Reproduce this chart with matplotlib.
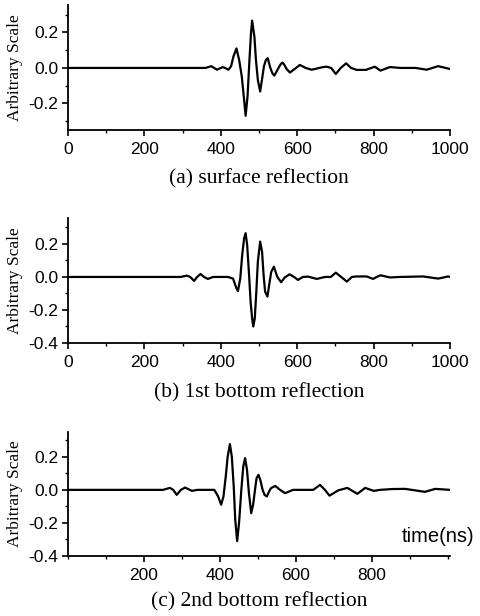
import numpy as np
import matplotlib
matplotlib.use('Agg')
import matplotlib.pyplot as plt
from matplotlib.ticker import MultipleLocator, FixedLocator, FormatStrFormatter

# (a) surface reflection
t_a = [0, 100, 200, 300, 360, 375, 390, 405, 411, 420, 427, 433, 441, 448, 455,
       461, 465, 470, 475, 479, 482, 488, 492, 497, 503, 509, 513, 518, 523, 529,
       535, 540, 546, 551, 557, 562, 567, 572, 581, 594, 607, 622, 638, 668, 677,
       689, 701, 714, 728, 741, 756, 780, 803, 818, 843, 870, 910, 939, 969, 1000]
v_a = [0, 0, 0, 0, 0, 0.01, -0.01, 0.005, 0, -0.01, 0.01, 0.064, 0.11, 0.045, -0.049,
       -0.18, -0.27, -0.16, 0.045, 0.195, 0.267, 0.176, 0.045, -0.068, -0.133, -0.049, 0.01, 0.045, 0.055, 0.005,
       -0.03, -0.043, -0.02, 0, 0.022, 0.03, 0.015, -0.005, -0.026, -0.005, 0.017, 0, -0.01, 0.005, 0.007,
       0, -0.034, 0, 0.026, 0, -0.011, -0.011, 0.007, -0.015, 0.005, 0, 0, -0.01, 0.01, -0.006]

# (b) 1st bottom reflection
t_b = [0, 100, 200, 295, 311, 320, 330, 338, 347, 356, 366, 380, 419, 432, 441,
       445, 451, 456, 461, 465, 469, 474, 478, 482, 485, 489, 493, 497, 503, 508,
       512, 516, 522, 528, 532, 539, 548, 558, 567, 580, 593, 602, 615, 629, 651,
       673, 688, 701, 715, 730, 743, 756, 782, 799, 808, 818, 843, 869, 930, 969,
       995, 1000]
v_b = [0, 0, 0, 0, 0.008, 0, -0.024, 0, 0.018, 0, -0.012, 0, 0, -0.01, -0.069,
       -0.085, -0.008, 0.133, 0.234, 0.265, 0.194, 0.012, -0.15, -0.25, -0.30, -0.25, -0.089, 0.093, 0.214, 0.153,
       0.012, -0.089, -0.119, -0.028, 0.03, 0.062, 0, -0.032, -0.004, 0.016, -0.002, -0.018, 0, 0.002, -0.012,
       0, 0, 0.026, 0, -0.028, 0, 0.003, 0.003, -0.012, 0, 0.01, -0.003, 0, 0.003, -0.01,
       0.003, 0]

# (c) 2nd bottom reflection
t_c = [0, 250, 268, 277, 286, 297, 308, 326, 340, 385, 395, 403, 409, 415, 420,
       426, 431, 436, 440, 445, 450, 456, 461, 466, 471, 476, 482, 487, 492, 496,
       501, 506, 512, 517, 523, 529, 534, 545, 558, 571, 592, 645, 663, 676, 688,
       711, 735, 761, 782, 804, 821, 852, 887, 939, 966, 1005]
v_c = [0, 0, 0.012, 0, -0.03, 0, 0.014, -0.006, 0, 0, -0.04, -0.09, -0.04, 0.08, 0.2,
       0.277, 0.2, 0.02, -0.18, -0.31, -0.2, 0, 0.14, 0.192, 0.12, -0.02, -0.141, -0.09, 0, 0.07,
       0.091, 0.06, 0, -0.03, -0.04, -0.01, 0.01, 0.024, 0, -0.02, 0, 0, 0.03, 0, -0.035,
       -0.003, 0.012, -0.024, 0.012, -0.006, 0, 0.005, 0.006, -0.012, 0.006, 0]

titles = ['(a) surface reflection', '(b) 1st bottom reflection', '(c) 2nd bottom reflection']
serif = 'Liberation Serif'
sans = 'Liberation Sans'

fig = plt.figure(figsize=(4.8, 6.16), dpi=100)
L, W = 68 / 480, 382 / 480
H = 616
boxes = [(5, 130), (218, 343), (432, 556)]
ylims = [(-0.35, 0.355), (-0.4, 0.357), (-0.4, 0.35)]
xlims = [(0, 1000), (0, 1000), (0, 1005)]
series = [(t_a, v_a), (t_b, v_b), (t_c, v_c)]
title_y = [179, 393, 602]

for i in range(3):
    top, bot = boxes[i]
    ax = fig.add_axes([L, 1 - bot / H, W, (bot - top) / H])
    t, v = series[i]
    ax.plot(t, v, color='black', lw=1.6, solid_joinstyle='round')
    ax.set_xlim(*xlims[i])
    ax.set_ylim(*ylims[i])
    for s in ['top', 'right']:
        ax.spines[s].set_visible(False)
    for s in ['left', 'bottom']:
        ax.spines[s].set_linewidth(1.3)
    ax.xaxis.set_minor_locator(MultipleLocator(100))
    ax.yaxis.set_minor_locator(MultipleLocator(0.1))
    if i == 2:
        ax.xaxis.set_major_locator(FixedLocator([200, 400, 600, 800]))
    else:
        ax.xaxis.set_major_locator(MultipleLocator(200))
    ax.yaxis.set_major_locator(MultipleLocator(0.2))
    ax.yaxis.set_major_formatter(FormatStrFormatter('%.1f'))
    ax.tick_params(which='major', direction='out', length=4, width=1.2, labelsize=12.5, pad=3)
    ax.tick_params(axis='x', which='major', pad=5)
    ax.tick_params(which='minor', direction='out', length=2.5, width=1.0)
    for lab in ax.get_xticklabels() + ax.get_yticklabels():
        lab.set_family(sans)
    ax.set_ylabel('Arbitrary Scale', family=serif, fontsize=12.5)
    ax.yaxis.set_label_coords(-0.118, 0.5)
    ax.text(0.5, (bot - title_y[i]) / (bot - top), titles[i], transform=ax.transAxes,
            ha='center', va='center', family=serif, fontsize=15.5)

fig.text(438 / 480, 1 - 537 / H, 'time(ns)', ha='center', va='center', family=sans, fontsize=14.5)

fig.savefig('out.png', dpi=100)
